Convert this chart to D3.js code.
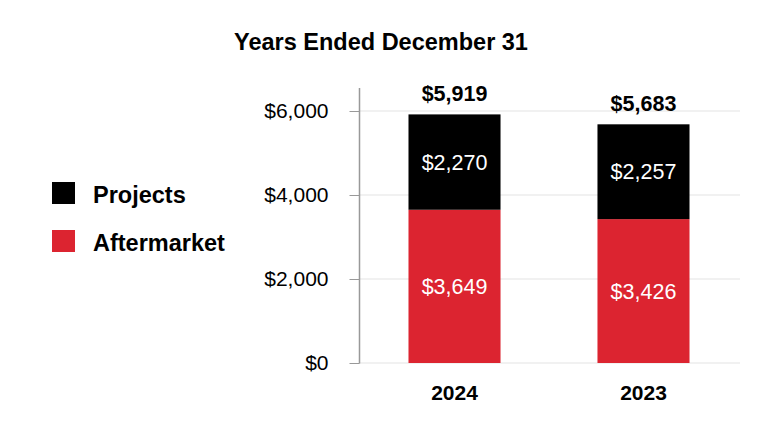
<!DOCTYPE html>
<html><head><meta charset="utf-8">
<script src="https://cdn.jsdelivr.net/npm/d3@7"></script>
<style>body{margin:0;background:#fff}svg{display:block;font-family:"Liberation Sans",Arial,sans-serif}</style>
</head><body><svg id="c" width="768" height="432"></svg>
<script>
const categories = ["2024", "2023"];
const aftermarket = [3649, 3426];
const projects = [2270, 2257];
const totals = [5919, 5683];
const yTicks = [0, 2000, 4000, 6000];
const seriesNames = ["Projects", "Aftermarket"];
const colors = {Projects: "#000000", Aftermarket: "#dc2430"};

const svg = d3.select("#c");
const x = d3.scaleBand().domain(categories).range([360, 738]).paddingInner(0.513).paddingOuter(0.2566);
const y = d3.scaleLinear().domain([0, 6000]).range([363, 111]);
const fmt = v => "$" + d3.format(",")(v);

// title
svg.append("text").attr("x", 381).attr("y", 50).attr("text-anchor", "middle")
  .attr("font-weight", "bold").attr("font-size", 23.5).text("Years Ended December 31");

// gridlines
svg.append("g").selectAll("line").data(yTicks).join("line")
  .attr("x1", 360).attr("x2", 740).attr("y1", d => y(d)).attr("y2", d => y(d))
  .attr("stroke", "#e3e3e3").attr("stroke-width", 1);

// axis
const ax = svg.append("g").attr("transform", "translate(359.5,0)")
  .call(d3.axisLeft(y).tickValues(yTicks).tickFormat(fmt).tickSize(10).tickPadding(21));
ax.select(".domain").remove();
ax.selectAll(".tick line").attr("stroke", "#999");
ax.selectAll(".tick text").attr("font-size", 21).attr("fill", "#000").attr("font-family", "Liberation Sans, Arial, sans-serif");
svg.append("line").attr("x1", 359.5).attr("x2", 359.5).attr("y1", 88).attr("y2", y(0) + 0.5)
  .attr("stroke", "#999").attr("stroke-width", 1.5);

// bars
const data = categories.map((c, i) => ({c, a: aftermarket[i], p: projects[i], t: totals[i]}));
const g = svg.append("g");
g.selectAll("rect.a").data(data).join("rect").attr("class", "a")
  .attr("x", d => x(d.c)).attr("width", x.bandwidth())
  .attr("y", d => y(d.a)).attr("height", d => y(0) - y(d.a)).attr("fill", colors.Aftermarket);
g.selectAll("rect.p").data(data).join("rect").attr("class", "p")
  .attr("x", d => x(d.c)).attr("width", x.bandwidth())
  .attr("y", d => y(d.a + d.p)).attr("height", d => y(d.a) - y(d.a + d.p)).attr("fill", colors.Projects);

// segment labels
g.selectAll("text.a").data(data).join("text").attr("class", "a")
  .attr("x", d => x(d.c) + x.bandwidth() / 2).attr("y", d => (y(0) + y(d.a)) / 2)
  .attr("dy", "0.35em").attr("text-anchor", "middle").attr("fill", "#fff").attr("font-size", 21.5)
  .text(d => fmt(d.a));
g.selectAll("text.p").data(data).join("text").attr("class", "p")
  .attr("x", d => x(d.c) + x.bandwidth() / 2).attr("y", d => (y(d.a) + y(d.a + d.p)) / 2)
  .attr("dy", "0.35em").attr("text-anchor", "middle").attr("fill", "#fff").attr("font-size", 21.5)
  .text(d => fmt(d.p));
g.selectAll("text.t").data(data).join("text").attr("class", "t")
  .attr("x", d => x(d.c) + x.bandwidth() / 2).attr("y", d => y(d.t) - 13)
  .attr("text-anchor", "middle").attr("font-weight", "bold").attr("font-size", 21.5)
  .text(d => fmt(d.t));

// x labels
g.selectAll("text.x").data(categories).join("text").attr("class", "x")
  .attr("x", d => x(d) + x.bandwidth() / 2).attr("y", 400)
  .attr("text-anchor", "middle").attr("font-weight", "bold").attr("font-size", 21).text(d => d);

// legend
const lg = svg.append("g").selectAll("g").data(seriesNames).join("g")
  .attr("transform", (d, i) => `translate(52,${182 + i * 48})`);
lg.append("rect").attr("width", 23).attr("height", 22).attr("fill", d => colors[d]);
lg.append("text").attr("x", 41).attr("y", 21).attr("font-weight", "bold").attr("font-size", 23.5).text(d => d);
</script></body></html>
